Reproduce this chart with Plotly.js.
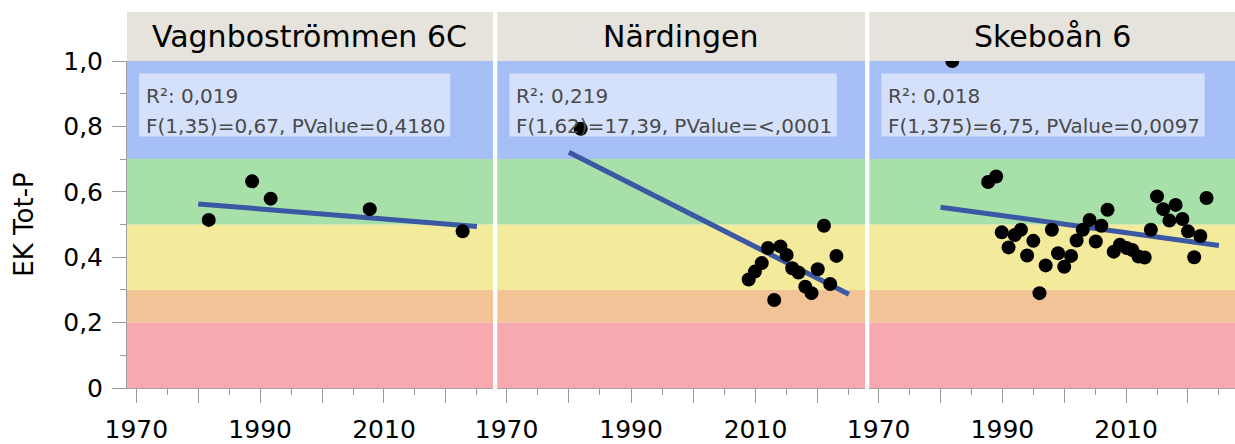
<!DOCTYPE html>
<html>
<head>
<meta charset="utf-8">
<script src="https://cdn.plot.ly/plotly-3.0.1.min.js"></script>
<style>
  html, body { margin: 0; padding: 0; background: #ffffff; }
  #chart { width: 1235px; height: 444px; }
</style>
</head>
<body>
<div id="chart"></div>
<script>
// Station names (one panel each)
const panelNames = ['Vagnboströmmen 6C', 'Närdingen', 'Skeboån 6'];

// EK Tot-P observations per station
const vagnYear = [1981.7, 1988.7, 1991.7, 2007.7, 2022.7];
const vagnTotP = [0.514, 0.632, 0.579, 0.547, 0.479];

const nardYear = [1981.9, 2008.9, 2009.9, 2011.0, 2012.0, 2013.0, 2014.0, 2015.0, 2015.9,
                  2016.9, 2018.0, 2019.0, 2020.0, 2021.0, 2022.0, 2023.0];
const nardTotP = [0.793, 0.332, 0.356, 0.382, 0.428, 0.269, 0.433, 0.407, 0.366,
                  0.353, 0.310, 0.290, 0.363, 0.496, 0.318, 0.404];

const skebYear = [1981.9, 1987.7, 1989.0, 1989.9, 1991.0, 1992.0, 1993.0, 1994.0, 1995.0,
                  1996.0, 1997.0, 1998.0, 1999.0, 2000.0, 2001.1, 2002.0, 2003.0, 2004.1,
                  2005.1, 2006.0, 2007.0, 2008.0, 2009.0, 2010.1, 2011.0, 2012.0, 2013.0,
                  2014.0, 2015.0, 2016.0, 2017.0, 2018.0, 2019.1, 2020.0, 2021.0, 2022.0, 2023.0];
const skebTotP = [1.000, 0.630, 0.647, 0.476, 0.430, 0.468, 0.484, 0.405, 0.450,
                  0.290, 0.375, 0.484, 0.412, 0.371, 0.404, 0.451, 0.484, 0.514,
                  0.448, 0.496, 0.545, 0.417, 0.438, 0.428, 0.422, 0.402, 0.399,
                  0.484, 0.586, 0.547, 0.512, 0.560, 0.517, 0.479, 0.400, 0.465, 0.581];

// Linear fits (value at start and end of the fitted span)
const fitYears = [1980, 2025];
const vagnFit = [0.563, 0.494];
const nardFit = [0.721, 0.287];
const skebFit = [0.553, 0.436];

// Fit statistics
const statR2 = ['R²: 0,019', 'R²: 0,219', 'R²: 0,018'];
const statF = ['F(1,35)=0,67, PValue=0,4180',
               'F(1,62)=17,39, PValue=&lt;,0001',
               'F(1,375)=6,75, PValue=0,0097'];

// Status classes (lower/upper EK limits)
const classLower = [0.0, 0.2, 0.3, 0.5, 0.7];
const classUpper = [0.2, 0.3, 0.5, 0.7, 1.0];
const classColors = ['#f7a9af', '#f3c398', '#f4ea9b', '#a7e0a8', '#a7bff7'];

// Tick labels
const yTickVals = [0, 0.2, 0.4, 0.6, 0.8, 1.0];
const yTickText = ['0', '0,2', '0,4', '0,6', '0,8', '1,0'];
const xTickVals = [1970, 1980, 1990, 2000, 2010, 2020];
const xTickText = ['1970', '', '1990', '', '2010', ''];

const FONT = 'DejaVu Sans, Verdana, sans-serif';
const axisSuffix = ['', '2', '3'];
const domains = [[0, 0.3303], [0.3342, 0.6661], [0.6700, 1.0]];
const years = [vagnYear, nardYear, skebYear];
const values = [vagnTotP, nardTotP, skebTotP];
const fits = [vagnFit, nardFit, skebFit];

const traces = [];
const shapes = [];
const annotations = [];
const layout = {
  width: 1235,
  height: 444,
  margin: { l: 127, r: 0, t: 61, b: 56 },
  paper_bgcolor: '#ffffff',
  plot_bgcolor: 'rgba(0,0,0,0)',
  showlegend: false,
  font: { family: FONT, color: '#000000' },
  yaxis: {
    range: [0, 1],
    fixedrange: true,
    tickmode: 'array',
    tickvals: yTickVals,
    ticktext: yTickText,
    ticks: 'outside',
    ticklen: 14,
    tickcolor: '#9a9a9a',
    ticklabelstandoff: 4,
    tickfont: { family: FONT, size: 25, color: '#000000' },
    minor: { dtick: 0.1, tick0: 0, ticks: 'outside', ticklen: 6, tickcolor: '#9a9a9a', showgrid: false },
    showgrid: false,
    zeroline: false,
    showline: true,
    linecolor: '#a0a0a0',
    linewidth: 1,
    title: { text: 'EK Tot-P', font: { family: FONT, size: 26, color: '#000000' }, standoff: 22 }
  },
  shapes: shapes,
  annotations: annotations
};

for (let i = 0; i < 3; i++) {
  const xa = 'x' + axisSuffix[i];
  const xKey = 'xaxis' + axisSuffix[i];

  layout[xKey] = {
    domain: domains[i],
    anchor: 'y',
    range: [1968.5, 2027.6],
    fixedrange: true,
    tickmode: 'array',
    tickvals: xTickVals,
    ticktext: xTickText,
    ticks: 'outside',
    ticklen: 14,
    tickcolor: '#9a9a9a',
    ticklabelstandoff: 5,
    tickfont: { family: FONT, size: 25, color: '#000000' },
    minor: { dtick: 5, tick0: 1970, ticks: 'outside', ticklen: 6, tickcolor: '#9a9a9a', showgrid: false },
    showgrid: false,
    zeroline: false,
    showline: true,
    linecolor: '#a0a0a0',
    linewidth: 1
  };

  // Status class bands
  for (let k = 0; k < classLower.length; k++) {
    shapes.push({
      type: 'rect', layer: 'below',
      xref: xa + ' domain', x0: 0, x1: 1,
      yref: 'y', y0: classLower[k], y1: classUpper[k],
      fillcolor: classColors[k], line: { width: 0 }
    });
  }

  // Header strip with station name
  shapes.push({
    type: 'rect', layer: 'below',
    xref: xa + ' domain', x0: 0, x1: 1,
    yref: 'paper', y0: 1, y1: 1.15,
    fillcolor: '#e5e3dc', line: { width: 0 }
  });
  annotations.push({
    xref: xa + ' domain', x: 0.5, xanchor: 'center',
    yref: 'paper', y: 1.075, yanchor: 'middle',
    text: panelNames[i], showarrow: false,
    font: { family: FONT, size: 30, color: '#000000' }
  });

  // Statistics box
  shapes.push({
    type: 'rect', layer: 'below',
    xref: xa + ' domain', x0: 0.033, x1: [0.883, 0.923, 0.917][i],
    yref: 'y', y0: 0.769, y1: 0.962,
    fillcolor: 'rgba(226,234,252,0.78)', line: { width: 0 }
  });
  annotations.push({
    xref: xa + ' domain', x: 0.046, xanchor: 'left',
    yref: 'y', y: 0.893, yanchor: 'middle',
    text: statR2[i], showarrow: false,
    font: { family: FONT, size: 20, color: '#4a4a4a' }
  });
  annotations.push({
    xref: xa + ' domain', x: 0.046, xanchor: 'left',
    yref: 'y', y: 0.801, yanchor: 'middle',
    text: statF[i], showarrow: false,
    font: { family: FONT, size: 20, color: '#4a4a4a' }
  });

  // Fit line
  traces.push({
    type: 'scatter', mode: 'lines',
    x: fitYears, y: fits[i],
    xaxis: xa, yaxis: 'y',
    line: { color: '#3a58a4', width: 5 },
    hoverinfo: 'skip'
  });
  // Observations
  traces.push({
    type: 'scatter', mode: 'markers',
    x: years[i], y: values[i],
    xaxis: xa, yaxis: 'y',
    marker: { color: '#000000', size: 14 },
    cliponaxis: true
  });
}

Plotly.newPlot('chart', traces, layout, { displayModeBar: false, staticPlot: true });
</script>
</body>
</html>
